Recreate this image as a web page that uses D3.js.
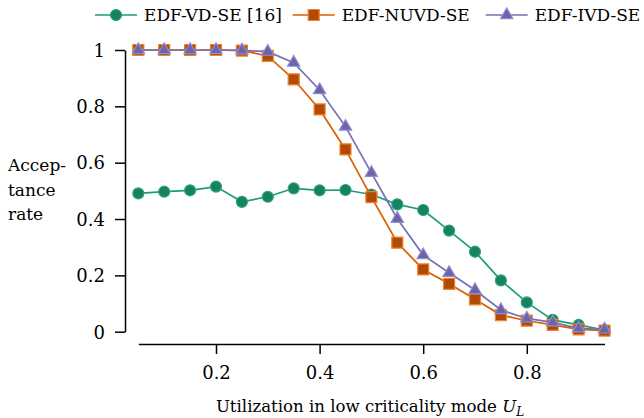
<!DOCTYPE html>
<html>
<head>
<meta charset="utf-8">
<script src="https://cdn.jsdelivr.net/npm/d3@7"></script>
<style>
  body { margin: 0; background: #fff; }
  svg text { font-family: "DejaVu Serif", serif; }
</style>
</head>
<body>
<div id="chart"></div>
<script>
var width = 644;
var height = 418;

var utilization = [0.05, 0.10, 0.15, 0.20, 0.25, 0.30, 0.35, 0.40, 0.45, 0.50,
                   0.55, 0.60, 0.65, 0.70, 0.75, 0.80, 0.85, 0.90, 0.95];
var edfVdSe   = [0.491, 0.497, 0.502, 0.515, 0.461, 0.479, 0.509, 0.502, 0.503, 0.487,
                 0.452, 0.432, 0.359, 0.284, 0.182, 0.104, 0.042, 0.024, 0.006];
var edfNuvdSe = [1.0, 1.0, 1.0, 1.0, 0.998, 0.979, 0.896, 0.789, 0.647, 0.478,
                 0.316, 0.221, 0.170, 0.115, 0.059, 0.039, 0.024, 0.008, 0.004];
var edfIvdSe  = [1.0, 1.0, 1.0, 1.0, 0.999, 0.994, 0.955, 0.858, 0.728, 0.564,
                 0.401, 0.272, 0.209, 0.148, 0.077, 0.047, 0.033, 0.012, 0.008];
var seriesNames = ["EDF-VD-SE [16]", "EDF-NUVD-SE", "EDF-IVD-SE"];
var xTicks = [0.2, 0.4, 0.6, 0.8];
var yTicks = [0, 0.2, 0.4, 0.6, 0.8, 1];

var series = [
	{name: seriesNames[0], values: edfVdSe, line: "#1b9e77", fill: "#17825f", stroke: "#2aa37d", shape: "circle"},
	{name: seriesNames[1], values: edfNuvdSe, line: "#d95f02", fill: "#b04a05", stroke: "#f0822e", shape: "square"},
	{name: seriesNames[2], values: edfIvdSe, line: "#7570b3", fill: "#6a64ab", stroke: "#938ecb", shape: "triangle"}
];

var svg = d3.select("#chart").append("svg")
	.attr("width", width)
	.attr("height", height);

var x = d3.scaleLinear().domain([0.05, 0.95]).range([138.3, 604.5]);
var y = d3.scaleLinear().domain([0, 1]).range([331.7, 50]);

function fmt(d) { return d === 0 || d === 1 ? String(d) : d.toFixed(1); }

// y axis
var yAxis = svg.append("g")
	.attr("transform", "translate(125,0)")
	.call(d3.axisLeft(y).tickValues(yTicks).tickFormat(fmt).tickSize(10).tickSizeOuter(0).tickPadding(10));

// x axis
var xAxis = svg.append("g")
	.attr("transform", "translate(0,344)")
	.call(d3.axisBottom(x).tickValues(xTicks).tickFormat(fmt).tickSize(10).tickSizeOuter(0).tickPadding(12));

yAxis.attr("font-size", 18);
xAxis.attr("font-size", 18);
svg.selectAll(".domain, .tick line").attr("stroke", "#000").attr("stroke-width", 1.5);
svg.selectAll(".tick text").attr("fill", "#000");
yAxis.selectAll(".tick text").attr("dy", "0.35em");

// axis titles
var yLabel = ["Accep-", "tance", "rate"];
svg.append("g").selectAll("text")
	.data(yLabel)
	.enter()
	.append("text")
	.attr("x", 8)
	.attr("y", function (d, i) { return 171 + i * 24.5; })
	.attr("font-size", 17)
	.text(function (d) { return d; });

var xTitle = svg.append("text")
	.attr("x", 370)
	.attr("y", 412)
	.attr("text-anchor", "middle")
	.attr("font-size", 16.6);
xTitle.append("tspan").text("Utilization in low criticality mode ");
xTitle.append("tspan").attr("font-style", "italic").text("U");
xTitle.append("tspan").attr("font-style", "italic").attr("font-size", 12).attr("dy", 4).text("L");

function symbolFor(shape) {
	if (shape === "circle") return d3.symbol().type(d3.symbolCircle).size(Math.PI * 5.5 * 5.5);
	if (shape === "square") return d3.symbol().type(d3.symbolSquare).size(121);
	return d3.symbol().type(d3.symbolTriangle).size(66);
}

var line = d3.line()
	.x(function (d) { return x(d[0]); })
	.y(function (d) { return y(d[1]); });

series.forEach(function (s) {
	var pts = utilization.map(function (u, i) { return [u, s.values[i]]; });
	var g = svg.append("g");
	g.append("path")
		.attr("d", line(pts))
		.attr("fill", "none")
		.attr("stroke", s.line)
		.attr("stroke-width", 1.7);
	g.selectAll("path.mark")
		.data(pts)
		.enter()
		.append("path")
		.attr("class", "mark")
		.attr("d", symbolFor(s.shape))
		.attr("transform", function (d) { return "translate(" + x(d[0]) + "," + y(d[1]) + ")"; })
		.attr("fill", s.fill)
		.attr("stroke", s.stroke)
		.attr("stroke-width", 1.2);
});

// legend
var legendX = [95, 292.7, 485.7];
var legend = svg.append("g");
series.forEach(function (s, i) {
	var lx = legendX[i];
	legend.append("line")
		.attr("x1", lx).attr("x2", lx + 42)
		.attr("y1", 15).attr("y2", 15)
		.attr("stroke", s.line)
		.attr("stroke-width", 1.7);
	legend.append("path")
		.attr("d", symbolFor(s.shape))
		.attr("transform", "translate(" + (lx + 21) + ",15)")
		.attr("fill", s.fill)
		.attr("stroke", s.stroke)
		.attr("stroke-width", 1.2);
	legend.append("text")
		.attr("x", lx + 49)
		.attr("y", 21)
		.attr("font-size", 17)
		.text(s.name);
});
</script>
</body>
</html>
